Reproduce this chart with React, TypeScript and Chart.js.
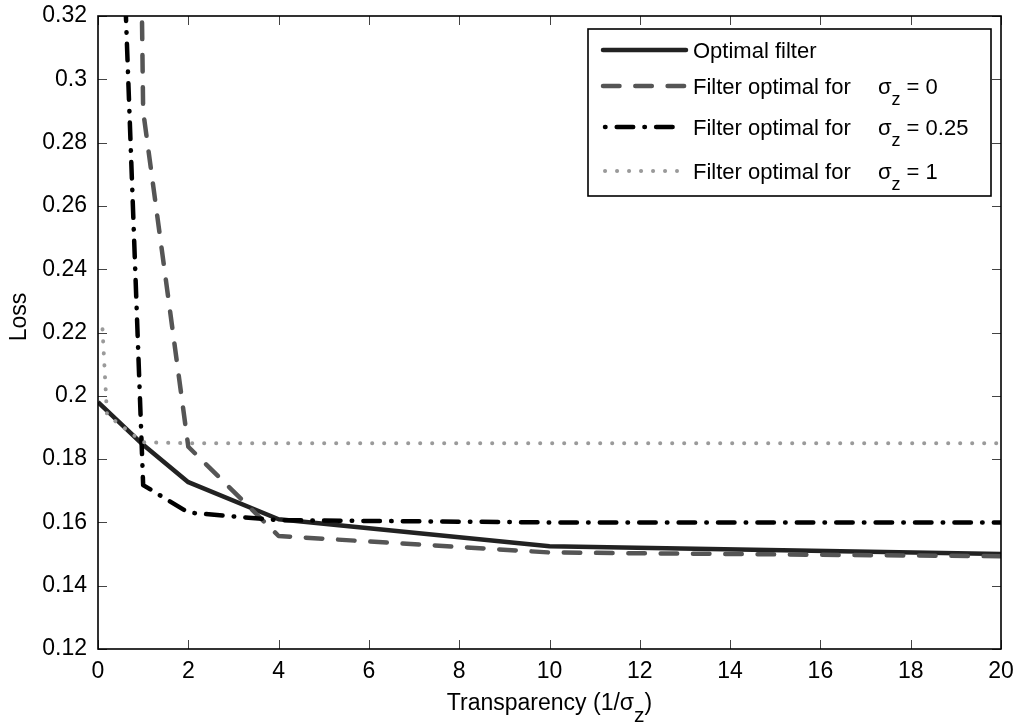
import React, { useEffect, useRef } from "react";
import { Chart, registerables } from "chart.js";

Chart.register(...registerables);

// ---------- data ----------
const transparencyX = [0, 1, 2, 4, 10, 20];
const dottedX = [0.1, 0.2, 1, 2, 4, 10, 20];
const optimalLoss = [0.198, 0.1845, 0.1727, 0.161, 0.1525, 0.15];
const sigma0Loss = [1.42, 0.29, 0.1839, 0.1557, 0.1505, 0.1493];
const sigma025Loss = [0.56, 0.1718, 0.1631, 0.1607, 0.16, 0.16];
const sigma1Loss = [0.221, 0.194, 0.1853, 0.185, 0.185, 0.185, 0.185];

const xTicks = [0, 2, 4, 6, 8, 10, 12, 14, 16, 18, 20];
const yTicks = [0.12, 0.14, 0.16, 0.18, 0.2, 0.22, 0.24, 0.26, 0.28, 0.3, 0.32];

const seriesLabels = [
  "Optimal filter",
  "Filter optimal for  σ_z = 0",
  "Filter optimal for  σ_z = 0.25",
  "Filter optimal for  σ_z = 1",
];
const xTitle = "Transparency (1/σ_z)";
const yTitle = "Loss";

// ---------- styling ----------
const FAMILY = '"Liberation Sans", Arial, sans-serif';
const TICK_SIZE = 23;

type Seg = { text: string; sub: boolean };
function parseRich(s: string): Seg[] {
  const segs: Seg[] = [];
  let buf = "";
  for (let i = 0; i < s.length; i++) {
    if (s[i] === "_" && i + 1 < s.length) {
      if (buf) segs.push({ text: buf, sub: false });
      buf = "";
      segs.push({ text: s[i + 1], sub: true });
      i++;
    } else buf += s[i];
  }
  if (buf) segs.push({ text: buf, sub: false });
  return segs;
}

function drawRich(
  ctx: CanvasRenderingContext2D,
  s: string,
  x: number,
  y: number,
  o: { size: number; subSize: number; subDy: number; align: "left" | "center"; greekPad?: number }
) {
  const segs = parseRich(s);
  const mainFont = `${o.size}px ${FAMILY}`;
  const subFont = `${o.subSize}px ${FAMILY}`;
  const pad = o.greekPad || 0;
  const widths = segs.map((g) => {
    ctx.font = g.sub ? subFont : mainFont;
    return ctx.measureText(g.text).width;
  });
  let total = widths.reduce((a, b) => a + b, 0);
  const hasGreekGap = s.includes("  ");
  if (hasGreekGap) total += pad;
  let cx = o.align === "center" ? x - total / 2 : x;
  ctx.textAlign = "left";
  ctx.textBaseline = "alphabetic";
  segs.forEach((g, i) => {
    ctx.font = g.sub ? subFont : mainFont;
    if (!g.sub && hasGreekGap && g.text.includes("  ")) {
      const idx = g.text.indexOf("  ");
      const a = g.text.slice(0, idx + 2);
      const b = g.text.slice(idx + 2);
      ctx.fillText(a, cx, y);
      const wa = ctx.measureText(a).width + pad;
      ctx.fillText(b, cx + wa, y);
      cx += wa + ctx.measureText(b).width;
      return;
    }
    ctx.fillText(g.text, cx, g.sub ? y + o.subDy : y);
    cx += widths[i];
  });
}

const framePlugin = {
  id: "matlabFrame",
  beforeDatasetsDraw(chart: any) {
    const { ctx, chartArea: a, scales } = chart;
    ctx.save();
    ctx.strokeStyle = "#444";
    ctx.lineWidth = 1;
    const L = 9;
    ctx.beginPath();
    xTicks.forEach((v) => {
      const px = Math.round(scales.x.getPixelForValue(v)) + 0.5;
      ctx.moveTo(px, a.bottom);
      ctx.lineTo(px, a.bottom - L);
      ctx.moveTo(px, a.top);
      ctx.lineTo(px, a.top + L);
    });
    yTicks.forEach((v) => {
      const py = Math.round(scales.y.getPixelForValue(v)) + 0.5;
      ctx.moveTo(a.left, py);
      ctx.lineTo(a.left + L, py);
      ctx.moveTo(a.right, py);
      ctx.lineTo(a.right - L, py);
    });
    ctx.stroke();
    ctx.restore();
  },
  afterDraw(chart: any) {
    const { ctx, chartArea: a } = chart;
    ctx.save();
    // frame
    ctx.strokeStyle = "#000";
    ctx.lineWidth = 1.6;
    ctx.strokeRect(a.left, a.top, a.right - a.left, a.bottom - a.top);

    // axis titles
    ctx.fillStyle = "#000";
    drawRich(ctx, xTitle, (a.left + a.right) / 2, 710, {
      size: 23,
      subSize: 21,
      subDy: 12,
      align: "center",
    });
    ctx.save();
    ctx.translate(26, 317);
    ctx.rotate(-Math.PI / 2);
    drawRich(ctx, yTitle, 0, 0, { size: 23, subSize: 17, subDy: 11, align: "center" });
    ctx.restore();

    // legend
    const bw = 403;
    const bh = 167;
    const bx = a.right - 10 - bw;
    const by = a.top + 13;
    ctx.fillStyle = "#fff";
    ctx.fillRect(bx, by, bw, bh);
    ctx.strokeStyle = "#000";
    ctx.lineWidth = 1.6;
    ctx.strokeRect(bx, by, bw, bh);
    const rows = [21, 57, 98, 142];
    chart.data.datasets.forEach((ds: any, i: number) => {
      const ry = by + rows[i];
      ctx.save();
      ctx.strokeStyle = ds.borderColor;
      ctx.lineWidth = ds.borderWidth;
      ctx.lineCap = "round";
      const dash = ds.borderDash || [];
      ctx.setLineDash(dash);
      let x0 = bx + 15;
      let x1 = bx + 98;
      if (i === 2) {
        ctx.lineDashOffset = dash[0] + dash[1];
        x0 = bx + 17;
        x1 = bx + 95;
      }
      if (i === 3) {
        x0 = bx + 17;
        x1 = bx + 89;
      }
      ctx.beginPath();
      ctx.moveTo(x0, ry);
      ctx.lineTo(x1, ry);
      ctx.stroke();
      ctx.restore();
      ctx.fillStyle = "#000";
      drawRich(ctx, ds.label, bx + 105, ry + 8, {
        size: 22,
        subSize: 18,
        subDy: 11,
        align: "left",
        greekPad: 15,
      });
    });
    ctx.restore();
  },
};

function pts(xs: number[], ys: number[]) {
  return xs.map((x, i) => ({ x, y: ys[i] }));
}

function noPad(s: any) {
  s.paddingTop = 0;
  s.paddingBottom = 0;
  s.paddingLeft = 0;
  s.paddingRight = 0;
}

export default function App() {
  const ref = useRef<HTMLCanvasElement | null>(null);
  useEffect(() => {
    if (!ref.current) return;
    const common = { pointRadius: 0, tension: 0, fill: false, clip: 0, borderCapStyle: "round", borderJoinStyle: "round" };
    const chart = new Chart(ref.current, {
      type: "line",
      data: {
        datasets: [
          {
            ...common,
            label: seriesLabels[0],
            data: pts(transparencyX, optimalLoss),
            borderColor: "#222222",
            borderWidth: 4.5,
            borderCapStyle: "butt",
            order: 4,
          },
          {
            ...common,
            label: seriesLabels[1],
            data: pts(transparencyX, sigma0Loss),
            borderColor: "#555555",
            borderWidth: 4.5,
            borderDash: [16.5, 15.8],
            order: 3,
          },
          {
            ...common,
            label: seriesLabels[2],
            data: pts(transparencyX, sigma025Loss),
            borderColor: "#000000",
            borderWidth: 4.5,
            borderDash: [16.5, 11.2, 0.5, 11.2],
            order: 2,
          },
          {
            ...common,
            label: seriesLabels[3],
            data: pts(dottedX, sigma1Loss),
            borderColor: "#9a9a9a",
            borderWidth: 4,
            borderDash: [0.1, 11.9],
            order: 1,
          },
        ] as any,
      },
      options: {
        responsive: false,
        animation: false,
        events: [],
        layout: { padding: { top: 16, right: 17, left: 0, bottom: 0 } },
        plugins: { legend: { display: false }, tooltip: { enabled: false }, title: { display: false } },
        scales: {
          x: {
            type: "linear",
            min: 0,
            max: 20,
            afterBuildTicks: (s: any) => {
              s.ticks = xTicks.map((v) => ({ value: v }));
            },
            afterFit: (s: any) => {
              s.height = 78;
              noPad(s);
            },
            ticks: {
              color: "#000",
              font: { family: FAMILY, size: TICK_SIZE },
              padding: 9,
              maxRotation: 0,
              autoSkip: false,
            },
            grid: { display: false, drawTicks: false },
            border: { display: false },
          },
          y: {
            type: "linear",
            min: 0.12,
            max: 0.32,
            afterBuildTicks: (s: any) => {
              s.ticks = yTicks.map((v) => ({ value: v }));
            },
            afterFit: (s: any) => {
              s.width = 98;
              noPad(s);
            },
            ticks: {
              color: "#000",
              font: { family: FAMILY, size: TICK_SIZE },
              padding: 11,
              autoSkip: false,
              callback: (v: any) => String(Number(Number(v).toFixed(2))),
            },
            grid: { display: false, drawTicks: false },
            border: { display: false },
          },
        },
      },
      plugins: [framePlugin],
    });
    return () => chart.destroy();
  }, []);
  return (
    <div style={{ position: "fixed", left: 0, top: 0, width: 1018, height: 727, background: "#fff" }}>
      <canvas ref={ref} width={1018} height={727} style={{ display: "block" }} />
    </div>
  );
}
